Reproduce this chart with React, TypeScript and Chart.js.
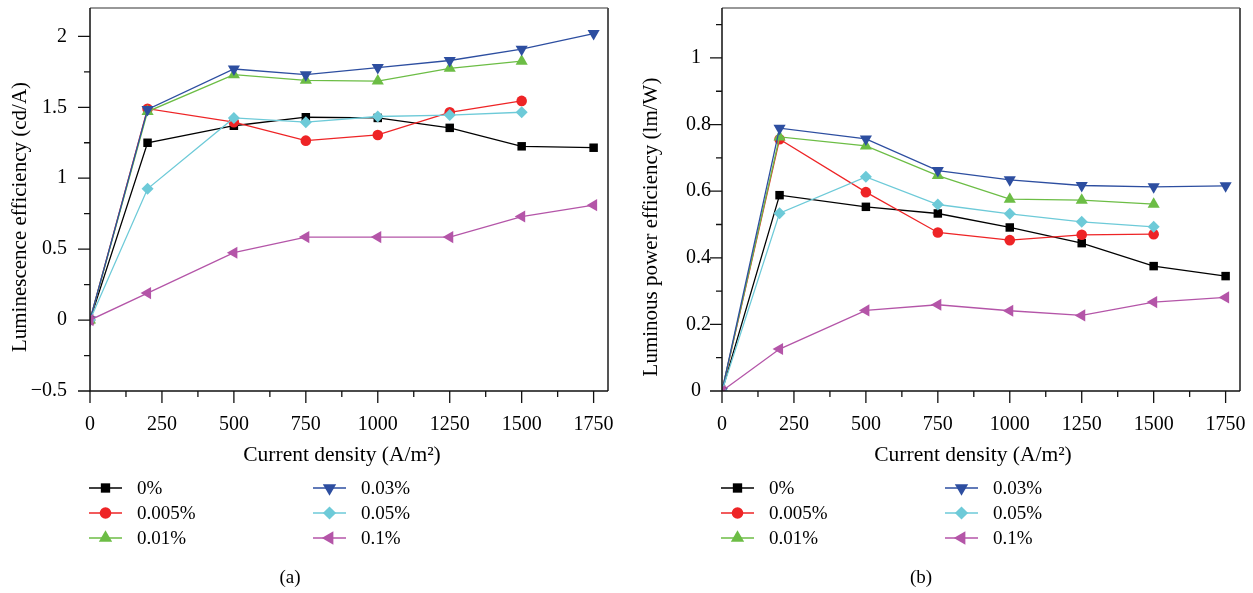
import React, { useEffect, useRef } from "react";
import { Chart, registerables } from "chart.js";
import { drawPoint } from "chart.js/helpers";

Chart.register(...registerables);

const FONT = "'Liberation Serif', 'Times New Roman', serif";

// ---------- data ----------
const currentDensity = [0, 200, 500, 750, 1000, 1250, 1500, 1750];
const seriesLabels = ["0%", "0.005%", "0.01%", "0.03%", "0.05%", "0.1%"];
const seriesColors = ["#000000", "#ee2426", "#6cbd45", "#2d4ea0", "#6dcad8", "#b455a8"];
const pointStyles = ["rect", "circle", "triangle", "triangle", "rectRot", "triangle"];
const pointRotations = [0, 0, 0, 180, 0, 270];
const pointRadii = [6, 5.3, 7, 7, 6, 7];

// (a) Luminescence efficiency (cd/A)
const lum0 = [0, 1.25, 1.37, 1.43, 1.425, 1.355, 1.225, 1.215];
const lum0005 = [0, 1.49, 1.395, 1.265, 1.305, 1.465, 1.545];
const lum001 = [0, 1.47, 1.73, 1.69, 1.685, 1.775, 1.825];
const lum003 = [0, 1.485, 1.77, 1.73, 1.78, 1.83, 1.91, 2.02];
const lum005 = [0, 0.925, 1.425, 1.395, 1.435, 1.445, 1.465];
const lum01 = [0, 0.19, 0.475, 0.585, 0.585, 0.585, 0.73, 0.81];

// (b) Luminous power efficiency (lm/W)
const pow0 = [0, 0.588, 0.553, 0.533, 0.491, 0.444, 0.375, 0.345];
const pow0005 = [0, 0.756, 0.597, 0.476, 0.453, 0.469, 0.471];
const pow001 = [0, 0.763, 0.736, 0.647, 0.576, 0.573, 0.561];
const pow003 = [0, 0.789, 0.757, 0.662, 0.634, 0.617, 0.613, 0.616];
const pow005 = [0, 0.534, 0.643, 0.56, 0.532, 0.508, 0.493];
const pow01 = [0, 0.126, 0.242, 0.259, 0.241, 0.227, 0.267, 0.281];

// ticks
const xTickValues = [0, 250, 500, 750, 1000, 1250, 1500, 1750];
const xMinorTickValues = [125, 375, 625, 875, 1125, 1375, 1625];
const lumTickValues = [-0.5, 0, 0.5, 1, 1.5, 2];
const lumMinorTickValues = [-0.25, 0.25, 0.75, 1.25, 1.75];
const powTickValues = [0, 0.2, 0.4, 0.6, 0.8, 1];
const powMinorTickValues = [0.1, 0.3, 0.5, 0.7, 0.9, 1.1];

const xTitle = "Current density (A/m\u00B2)";

type Props = {
  series: number[][];
  yTitle: string;
  yMin: number;
  yMax: number;
  yMajor: number[];
  yMinor: number[];
  yLabel: (v: number) => string;
  caption: string;
  width: number;
  axisWidth: number;
  padRight: number;
  yTickPad: number;
  yTitleX: number;
  yTitleY: number;
  xTitleX: number;
  captionDx: number;
};

function EfficiencyChart(p: Props) {
  const ref = useRef<HTMLCanvasElement | null>(null);

  useEffect(() => {
    if (!ref.current) return;

    const datasets = p.series.map((vals, i) => ({
      label: seriesLabels[i],
      data: vals.map((v, j) => ({ x: currentDensity[j], y: v })),
      borderColor: seriesColors[i],
      backgroundColor: seriesColors[i],
      borderWidth: 1.3,
      pointStyle: pointStyles[i],
      pointRotation: pointRotations[i],
      pointRadius: pointRadii[i],
      pointBackgroundColor: seriesColors[i],
      pointBorderColor: seriesColors[i],
      pointBorderWidth: 0,
      tension: 0,
      order: 10 - i,
    }));

    const framePlugin = {
      id: "frame",
      afterDraw(chart: any) {
        const { ctx, chartArea: a } = chart;
        const xs = chart.scales.x;
        const ys = chart.scales.y;
        ctx.save();
        ctx.lineCap = "butt";
        // top & right borders
        ctx.strokeStyle = "#333";
        ctx.lineWidth = 1.2;
        ctx.beginPath();
        ctx.moveTo(a.left, a.top);
        ctx.lineTo(a.right, a.top);
        ctx.stroke();
        ctx.strokeStyle = "#555";
        ctx.lineWidth = 2;
        ctx.beginPath();
        ctx.moveTo(a.right, a.top);
        ctx.lineTo(a.right, a.bottom);
        ctx.stroke();
        // axes
        ctx.strokeStyle = "#111";
        ctx.lineWidth = 1.5;
        ctx.beginPath();
        ctx.moveTo(a.left, a.top);
        ctx.lineTo(a.left, a.bottom + 0.75);
        ctx.moveTo(a.left - 0.75, a.bottom);
        ctx.lineTo(a.right, a.bottom);
        ctx.stroke();
        // ticks
        ctx.lineWidth = 1.3;
        ctx.beginPath();
        xTickValues.forEach((v) => {
          const px = xs.getPixelForValue(v);
          ctx.moveTo(px, a.bottom);
          ctx.lineTo(px, a.bottom + 12);
        });
        xMinorTickValues.forEach((v) => {
          const px = xs.getPixelForValue(v);
          ctx.moveTo(px, a.bottom);
          ctx.lineTo(px, a.bottom + 6);
        });
        p.yMajor.forEach((v) => {
          const py = ys.getPixelForValue(v);
          ctx.moveTo(a.left - 12, py);
          ctx.lineTo(a.left, py);
        });
        p.yMinor.forEach((v) => {
          const py = ys.getPixelForValue(v);
          ctx.moveTo(a.left - 6, py);
          ctx.lineTo(a.left, py);
        });
        ctx.stroke();

        // axis titles
        ctx.fillStyle = "#000";
        ctx.font = `21.5px ${FONT}`;
        ctx.textAlign = "center";
        ctx.textBaseline = "middle";
        ctx.fillText(xTitle, p.xTitleX, 455);
        ctx.font = `21px ${FONT}`;
        ctx.save();
        ctx.translate(p.yTitleX, p.yTitleY);
        ctx.rotate(-Math.PI / 2);
        ctx.fillText(p.yTitle, 0, 0);
        ctx.restore();
        ctx.restore();
      },
    };

    const legendPlugin = {
      id: "sideLegend",
      afterDraw(chart: any) {
        const { ctx, chartArea: a } = chart;
        ctx.save();
        const rows = [488, 513, 538];
        chart.data.datasets.forEach((ds: any, i: number) => {
          const col = Math.floor(i / 3);
          const row = i % 3;
          const x0 = a.left - 1 + col * 224;
          const y = rows[row];
          ctx.strokeStyle = ds.borderColor;
          ctx.lineWidth = 1.3;
          ctx.beginPath();
          ctx.moveTo(x0, y);
          ctx.lineTo(x0 + 33, y);
          ctx.stroke();
          ctx.fillStyle = ds.pointBackgroundColor;
          ctx.strokeStyle = ds.pointBorderColor;
          drawPoint(
            ctx,
            {
              pointStyle: ds.pointStyle,
              rotation: ds.pointRotation,
              radius: ds.pointRadius * 1.1,
              borderWidth: 0,
            } as any,
            x0 + 16.5,
            y
          );
          ctx.fillStyle = "#000";
          ctx.font = `19px ${FONT}`;
          ctx.textAlign = "left";
          ctx.textBaseline = "middle";
          ctx.fillText(ds.label, x0 + 48, y + 1);
        });
        ctx.font = `19px ${FONT}`;
        ctx.textAlign = "center";
        ctx.textBaseline = "middle";
        ctx.fillStyle = "#000";
        ctx.fillText(p.caption, a.left + p.captionDx, 578);
        ctx.restore();
      },
    };

    const chart = new Chart(ref.current, {
      type: "line",
      data: { datasets: datasets as any },
      options: {
        responsive: false,
        animation: false,
        layout: { padding: { left: 0, top: 8, right: p.padRight, bottom: 126 } },
        plugins: { legend: { display: false }, tooltip: { enabled: false } },
        scales: {
          x: {
            type: "linear",
            min: 0,
            max: 1800,
            afterBuildTicks: (s: any) => {
              s.ticks = xTickValues.map((v) => ({ value: v }));
            },
            afterFit: (s: any) => {
              s.height = 76;
              s.paddingLeft = 0;
              s.paddingRight = 0;
            },
            ticks: {
              color: "#000",
              font: { family: FONT, size: 20 },
              padding: 22,
              maxRotation: 0,
              autoSkip: false,
              callback: (v: any) => String(v),
            },
            grid: { display: false, drawTicks: false },
            border: { display: false },
            title: { display: false },
          },
          y: {
            type: "linear",
            min: p.yMin,
            max: p.yMax,
            afterBuildTicks: (s: any) => {
              s.ticks = p.yMajor.map((v) => ({ value: v }));
            },
            afterFit: (s: any) => {
              s.width = p.axisWidth;
              s.paddingTop = 0;
              s.paddingBottom = 0;
            },
            ticks: {
              color: "#000",
              font: { family: FONT, size: 20 },
              padding: p.yTickPad,
              autoSkip: false,
              callback: (v: any) => p.yLabel(Number(v)),
            },
            grid: { display: false, drawTicks: false },
            border: { display: false },
            title: { display: false },
          },
        },
      },
      plugins: [framePlugin, legendPlugin],
    });
    return () => chart.destroy();
  }, []);

  return (
    <canvas
      ref={ref}
      width={p.width}
      height={593}
      style={{ display: "block", width: p.width, height: 593 }}
    />
  );
}

const lumLabel = (v: number) => (v < 0 ? "\u2212" + String(Math.abs(v)) : String(v));
const powLabel = (v: number) => (Number.isInteger(v) ? String(v) + "\u2002" : String(v));

export default function App() {
  return (
    <div
      style={{
        position: "absolute",
        left: 0,
        top: 0,
        width: 1253,
        height: 593,
        background: "#fff",
        display: "flex",
      }}
    >
      <EfficiencyChart
        series={[lum0, lum0005, lum001, lum003, lum005, lum01]}
        yTitle="Luminescence efficiency (cd/A)"
        yMin={-0.5}
        yMax={2.2}
        yMajor={lumTickValues}
        yMinor={lumMinorTickValues}
        yLabel={lumLabel}
        caption="(a)"
        width={626}
        axisWidth={90}
        padRight={18}
        yTickPad={23}
        yTitleX={20}
        yTitleY={217}
        xTitleX={342}
        captionDx={200}
      />
      <EfficiencyChart
        series={[pow0, pow0005, pow001, pow003, pow005, pow01]}
        yTitle="Luminous power efficiency (lm/W)"
        yMin={0}
        yMax={1.15}
        yMajor={powTickValues}
        yMinor={powMinorTickValues}
        yLabel={powLabel}
        caption="(b)"
        width={627}
        axisWidth={96}
        padRight={13}
        yTickPad={11}
        yTitleX={25.5}
        yTitleY={227}
        xTitleX={347}
        captionDx={199}
      />
    </div>
  );
}
